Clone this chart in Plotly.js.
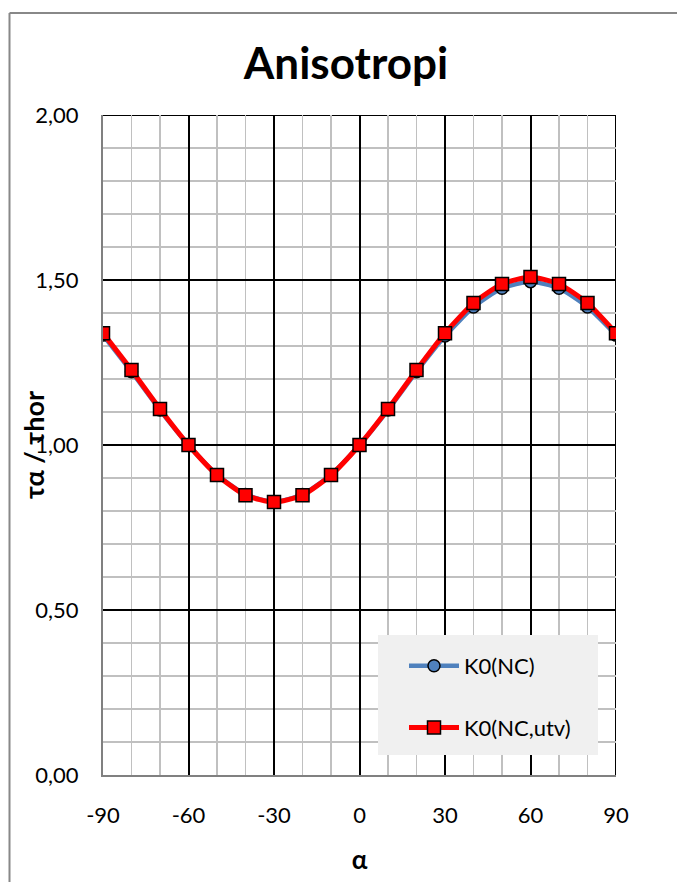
<!DOCTYPE html>
<html>
<head>
<meta charset="utf-8">
<script src="https://cdn.plot.ly/plotly-3.0.1.min.js"></script>
<style>html,body{margin:0;padding:0;background:#fff;}#chart{width:677px;height:882px;}</style>
</head>
<body>
<div id="chart"></div>
<script>
const alpha = [-90, -80, -70, -60, -50, -40, -30, -20, -10, 0, 10, 20, 30, 40, 50, 60, 70, 80, 90];
const k0NC = [1.333, 1.222, 1.106, 1.000, 0.910, 0.850, 0.828, 0.850, 0.910, 1.000, 1.106, 1.222, 1.330, 1.418, 1.475, 1.495, 1.475, 1.418, 1.333];
const k0NCutv = [1.339, 1.227, 1.109, 1.000, 0.909, 0.848, 0.827, 0.848, 0.909, 1.000, 1.109, 1.227, 1.339, 1.430, 1.488, 1.509, 1.488, 1.430, 1.339];
const seriesNames = ['K0(NC)', 'K0(NC,utv)'];
const xTicks = [-90, -60, -30, 0, 30, 60, 90];
const yTicks = [0, 0.5, 1.0, 1.5, 2.0];
const yTitle = 'τα / τhor';

const FONT = 'Lato, "Open Sans", sans-serif';

const traces = [
  {
    x: alpha, y: k0NC, name: seriesNames[0], type: 'scatter', mode: 'lines+markers',
    legendgroup: 'a',
    line: {color: '#4f81bd', width: 4.5, shape: 'spline', smoothing: 0.6},
    marker: {symbol: 'circle', size: 12, color: '#4f81bd', line: {color: '#000', width: 1.5}}
  },
  {
    x: alpha, y: k0NCutv, name: seriesNames[1], type: 'scatter', mode: 'lines+markers',
    legendgroup: 'b',
    line: {color: '#ff0000', width: 5, shape: 'spline', smoothing: 0.6},
    marker: {symbol: 'square', size: 13, color: '#ff0000', line: {color: '#000', width: 1.5}}
  }
];

const L = 103, R = 616, T = 115, B = 775;
const px = v => (v - L) / (R - L);
const py = v => (B - v) / (B - T);

const layout = {
  width: 677, height: 882,
  margin: {l: L, r: 677 - R, t: T, b: 882 - B},
  paper_bgcolor: '#fff', plot_bgcolor: '#fff',
  separators: ',.',
  font: {family: FONT, color: '#000', size: 22},
  title: {text: '<b>Anisotropi</b>', font: {family: FONT, size: 44, color: '#000'},
          x: 346/677, xref: 'container', xanchor: 'center', y: 1 - 64/882, yanchor: 'middle', yref: 'container'},
  showlegend: true,
  legend: {
    x: px(404), y: py(645), xanchor: 'left', yanchor: 'top',
    bgcolor: 'rgba(0,0,0,0)', borderwidth: 0,
    font: {family: FONT, size: 22, color: '#000'},
    tracegroupgap: 30, itemwidth: 50
  },
  xaxis: {
    range: [-90, 90], tickvals: xTicks, ticktext: xTicks.map(String),
    showgrid: true, gridcolor: '#000', gridwidth: 2,
    minor: {dtick: 10, tick0: 0, showgrid: true, gridcolor: '#c0c0c0', gridwidth: 1.5},
    zeroline: false, showline: true, linecolor: '#808080', linewidth: 2,
    ticks: '', ticklabelstandoff: 20,
    tickfont: {family: FONT, size: 22, color: '#000'},
    title: {text: '<b>α</b>', font: {family: FONT, size: 26, color: '#000'}, standoff: 23},
    automargin: false, fixedrange: true
  },
  yaxis: {
    range: [0, 2], tickvals: yTicks, tickformat: '.2f',
    showgrid: true, gridcolor: '#000', gridwidth: 2,
    minor: {dtick: 0.1, tick0: 0, showgrid: true, gridcolor: '#c0c0c0', gridwidth: 1.5},
    zeroline: false, showline: true, linecolor: '#808080', linewidth: 2,
    ticks: '', ticklabelstandoff: 18,
    tickfont: {family: FONT, size: 22, color: '#000'},
    automargin: false, fixedrange: true
  },
  annotations: [
    {text: '<b>' + yTitle + '</b>', xref: 'paper', yref: 'paper', x: px(33), y: py(445),
     xanchor: 'center', yanchor: 'middle', textangle: -90, showarrow: false,
     font: {family: FONT, size: 27, color: '#000'}}
  ],
  shapes: [
    {type: 'line', xref: 'paper', yref: 'y', x0: 0, x1: 1, y0: 2, y1: 2, line: {color: '#000', width: 2}, layer: 'below'},
    {type: 'line', xref: 'x', yref: 'paper', x0: 90, x1: 90, y0: 0, y1: 1, line: {color: '#000', width: 2}, layer: 'below'},
    {type: 'rect', xref: 'paper', yref: 'paper', x0: px(378), x1: px(598), y0: py(755), y1: py(635),
     fillcolor: '#f0f0f0', line: {width: 0}, layer: 'above'},
    {type: 'line', xref: 'paper', yref: 'paper', x0: px(9.5), x1: px(9.5), y0: py(13), y1: py(900), line: {color: '#888', width: 2}},
    {type: 'line', xref: 'paper', yref: 'paper', x0: px(9.5), x1: px(700), y0: py(13), y1: py(13), line: {color: '#888', width: 2}}
  ]
};

Plotly.newPlot('chart', traces, layout, {staticPlot: true, displayModeBar: false});
</script>
</body>
</html>
